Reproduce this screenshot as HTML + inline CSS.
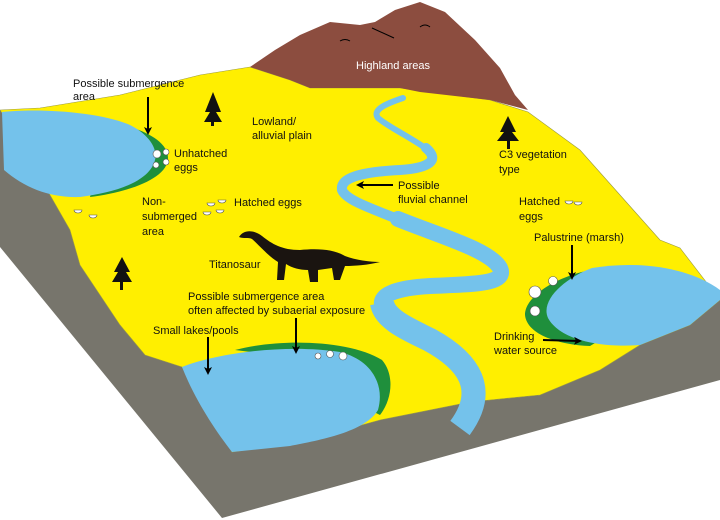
<!DOCTYPE html>
<html><head><style>body{margin:0;background:#fff}svg{display:block}text{font-family:"Liberation Sans",sans-serif;font-size:11px;fill:#111}</style></head><body>
<svg width="720" height="520" viewBox="0 0 720 520" xmlns="http://www.w3.org/2000/svg">
<defs><marker id="a" markerWidth="8" markerHeight="8" refX="6" refY="4" orient="auto" markerUnits="userSpaceOnUse"><path d="M0,0 L8,4 L0,8 L2,4 Z" fill="#000"/></marker></defs>
<!-- gray faces -->
<path d="M0,110 L10,125 L30,160 L50,195 L70,230 L80,265 L100,295 L120,325 L145,355 L182,367 L232,452 L300,442 L380,420 L470,402 L540,395 L600,370 L640,345 L690,325 L720,300 L720,380 L222,518 L0,247 Z" fill="#77756c"/>
<!-- yellow top -->
<path d="M40,108 L120,95 L200,75 L250,67 L290,80 L310,88 L400,88 L490,100 L528,112 L580,150 L620,195 L660,240 L680,248 L720,300 L690,325 L640,345 L600,370 L540,395 L470,402 L380,420 L300,442 L232,452 L182,367 L145,355 L120,325 L100,295 L80,265 L70,230 L50,195 L30,160 L10,125 L0,110 Z" fill="#ffef00" stroke="#9a9a40" stroke-width="0.6"/>
<!-- mountain -->
<path d="M250,67 L275,50 L300,35 L330,22 L360,25 L375,22 L395,10 L420,2 L445,12 L475,40 L500,68 L515,95 L528,110 L490,100 L420,92 L400,88 L310,88 L290,80 Z" fill="#8c4d3f"/>
<path d="M340,41 q5,-3 10,0 M420,27 q5,-4 10,0 M372,28 l22,10" stroke="#000" fill="none"/>
<!-- river -->
<path d="M403,98 C385,104 372,110 378,118 C390,128 412,138 428,150" stroke="#74c2eb" stroke-width="6" fill="none" stroke-linecap="round"/>
<path d="M426,148 C440,160 430,168 400,170 C360,172 340,178 342,190 C346,200 370,208 400,220" stroke="#74c2eb" stroke-width="10" fill="none" stroke-linecap="round"/>
<path d="M398,219 C440,236 490,250 500,268 C508,285 470,284 430,286 C395,288 380,295 382,305" stroke="#74c2eb" stroke-width="16" fill="none" stroke-linecap="round"/>
<path d="M382,303 C385,320 410,330 430,340 C470,362 488,390 460,428" stroke="#74c2eb" stroke-width="24" fill="none"/>
<!-- left lake -->
<path d="M112,122 C140,128 168,140 168,158 C168,178 130,192 90,197 Z" fill="#1f8f3c"/>
<path d="M2,112 C40,108 100,112 130,125 C150,135 158,150 155,160 C150,180 120,192 80,197 C50,198 25,188 4,170 Z" fill="#74c2eb"/>
<!-- bottom lake -->
<path d="M235,350 C280,338 350,340 382,360 C395,375 392,400 380,415 L370,410 C378,395 375,375 355,365 Z" fill="#1f8f3c"/>
<path d="M182,367 C220,352 290,344 340,352 C372,360 385,385 378,410 C365,432 320,440 290,446 L232,452 C215,430 195,400 182,367 Z" fill="#74c2eb"/>
<!-- right lake -->
<path d="M592,270 C560,275 525,295 525,315 C527,335 560,345 590,346 L600,340 C560,330 545,305 592,270 Z" fill="#1f8f3c"/>
<path d="M592,268 C640,260 690,268 720,290 L720,300 L690,325 L640,345 C600,348 560,340 548,318 C540,300 565,278 592,268 Z" fill="#74c2eb"/>
<!-- eggs -->
<g fill="#fff" stroke="#555" stroke-width="0.6">
<circle cx="157" cy="154" r="4"/><circle cx="166" cy="152" r="3"/><circle cx="156" cy="165" r="3"/><circle cx="166" cy="162" r="3"/>
<circle cx="535" cy="292" r="6"/><circle cx="553" cy="281" r="4.5"/><circle cx="535" cy="311" r="5"/>
<circle cx="318" cy="356" r="3"/><circle cx="330" cy="354" r="3.5"/><circle cx="343" cy="356" r="4"/>
<path d="M74,210 a4,3 0 0 0 8,0 Z M89,215 a4,3 0 0 0 8,0 Z M207,203 a4,3 0 0 0 8,0 Z M218,200 a4,3 0 0 0 8,0 Z M203,212 a4,3 0 0 0 8,0 Z M216,210 a4,3 0 0 0 8,0 Z M565,201 a4,3 0 0 0 8,0 Z M574,202 a4,3 0 0 0 8,0 Z"/>
</g>
<!-- trees -->
<g fill="#111">
<path d="M213,92 L221,112 L216,112 L222,122 L204,122 L210,112 L205,112 Z"/><rect x="211" y="120" width="3" height="6"/>
<path d="M508,116 L516,132 L512,132 L519,141 L497,141 L504,132 L500,132 Z"/><rect x="507" y="140" width="3" height="9"/>
<path d="M122,257 L130,272 L126,272 L132,282 L112,282 L118,272 L114,272 Z"/><rect x="120" y="281" width="3" height="9"/>
</g>
<!-- dinosaur -->
<path d="M239,237 C244,229 254,230 262,236 C272,244 282,250 300,250 C320,248 335,250 345,256 C355,260 370,262 380,262 C368,265 355,266 345,266 L340,280 L334,280 L332,268 L318,270 L318,282 L310,282 L308,270 C300,270 292,268 286,264 L284,280 L277,280 L278,262 C268,256 258,244 252,239 C248,237 244,239 239,237 Z" fill="#1a1410"/>
<!-- arrows -->
<g stroke="#000" stroke-width="2" fill="none" marker-end="url(#a)">
<path d="M148,97 L148,133"/><path d="M393,185 L358,185"/><path d="M572,245 L572,278"/><path d="M543,340 L580,341"/><path d="M208,337 L208,373"/><path d="M296,318 L296,352"/>
</g>
<g>
<text x="73" y="87">Possible submergence</text><text x="73" y="100">area</text>
<text x="252" y="125">Lowland/</text><text x="252" y="139">alluvial plain</text>
<text x="174" y="157">Unhatched</text><text x="174" y="171">eggs</text>
<text x="234" y="206">Hatched eggs</text>
<text x="142" y="205">Non-</text><text x="142" y="220">submerged</text><text x="142" y="235">area</text>
<text x="398" y="189">Possible</text><text x="398" y="203">fluvial channel</text>
<text x="499" y="158">C3 vegetation</text><text x="499" y="173">type</text>
<text x="519" y="205">Hatched</text><text x="519" y="220">eggs</text>
<text x="534" y="241">Palustrine (marsh)</text>
<text x="356" y="69" style="fill:#fff">Highland areas</text>
<text x="209" y="268">Titanosaur</text>
<text x="188" y="300">Possible submergence area</text><text x="188" y="314">often affected by subaerial exposure</text>
<text x="153" y="334">Small lakes/pools</text>
<text x="494" y="340">Drinking</text><text x="494" y="354">water source</text>
</g>
</svg>
</body></html>
